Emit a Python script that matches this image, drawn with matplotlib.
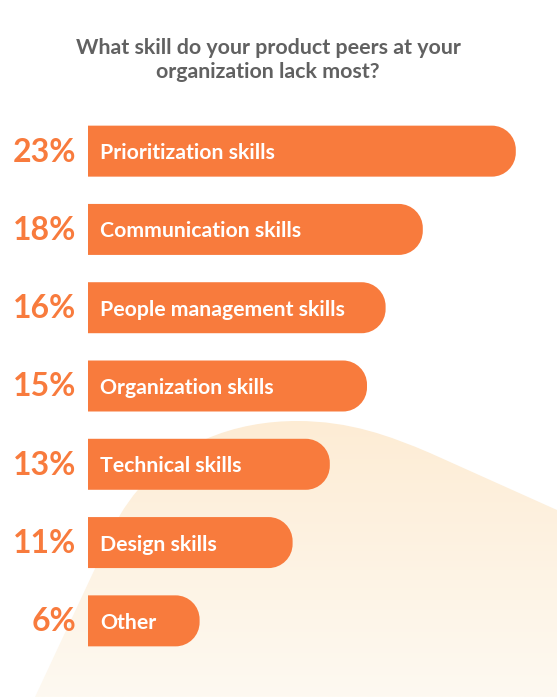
import matplotlib

matplotlib.use("Agg")
import matplotlib.pyplot as plt
import numpy as np
from matplotlib.path import Path
from matplotlib.patches import PathPatch

# Дані з графіка
skills = [
    "Prioritization skills",
    "Communication skills",
    "People management skills",
    "Organization skills",
    "Technical skills",
    "Design skills",
    "Other",
]
shares = [23, 18, 16, 15, 13, 11, 6]
title = "What skill do your product peers at your\norganization lack most?"

ORANGE = "#F87B3D"
GREY = "#616161"
FONT = "Lato"

W, H = 557, 697
fig = plt.figure(figsize=(W / 100, H / 100), dpi=100)
fig.patch.set_facecolor("white")

# Фонова "хвиля" з градієнтом (піксельні координати, y вниз)
bg = fig.add_axes([0, 0, 1, 1], zorder=0)
bg.set_xlim(0, W)
bg.set_ylim(H, 0)
bg.axis("off")
verts = [
    (35, 697), (120, 515),
    (165, 440), (240, 421), (297, 421),
    (350, 421), (390, 436), (430, 453),
    (557, 510), (557, 697), (35, 697),
]
codes = [
    Path.MOVETO, Path.LINETO,
    Path.CURVE4, Path.CURVE4, Path.CURVE4,
    Path.CURVE4, Path.CURVE4, Path.CURVE4,
    Path.LINETO, Path.LINETO, Path.CLOSEPOLY,
]
blob = PathPatch(Path(verts, codes), facecolor="none", edgecolor="none")
bg.add_patch(blob)
top = np.array([253, 236, 212]) / 255
bottom = np.array([254, 249, 241]) / 255
t = np.linspace(0, 1, 256)[:, None, None]
grad = top * (1 - t) + bottom * t
img = bg.imshow(grad, extent=[0, W, H, 415], aspect="auto", zorder=0)
img.set_clip_path(blob)

# Заголовок
fig.text(268 / W, 1 - 60 / H, title, ha="center", va="center", color=GREY,
         fontsize=15.4, fontweight="bold", family=FONT, linespacing=1.2)

# Вісь зі стовпцями
px_x = 18.6  # пікселів на 1%
ax = fig.add_axes([88 / W, 37 / H, (W - 88) / W, 548 / H], zorder=1)
ax.set_xlim(0, (W - 88) / px_x)
ax.set_ylim(len(skills) - 0.5, -0.5)
ax.axis("off")
ax.patch.set_alpha(0)

bar_h = 51 / 78.3
r_px = 24
rx = r_px / px_x
ry = r_px / 78.3
k = 0.5523


def rounded_bar(y, w):
    y0, y1 = y - bar_h / 2, y + bar_h / 2
    v = [
        (0, y0), (w - rx, y0),
        (w - rx + k * rx, y0), (w, y0 + ry - k * ry), (w, y0 + ry),
        (w, y1 - ry),
        (w, y1 - ry + k * ry), (w - rx + k * rx, y1), (w - rx, y1),
        (0, y1), (0, y0),
    ]
    c = [
        Path.MOVETO, Path.LINETO,
        Path.CURVE4, Path.CURVE4, Path.CURVE4,
        Path.LINETO,
        Path.CURVE4, Path.CURVE4, Path.CURVE4,
        Path.LINETO, Path.CLOSEPOLY,
    ]
    return PathPatch(Path(v, c), facecolor=ORANGE, edgecolor="none")


for i, (name, val) in enumerate(zip(skills, shares)):
    ax.add_patch(rounded_bar(i, val))
    ax.annotate(name, xy=(0, i), xytext=(12, -2), textcoords="offset pixels",
                ha="left", va="center", color="white", fontsize=15.3,
                fontweight="bold", family=FONT)
    ax.annotate(f"{val}%", xy=(0, i), xytext=(-12, -1), textcoords="offset pixels",
                ha="right", va="center", color=ORANGE, fontsize=23,
                fontweight="bold", family=FONT)

fig.savefig("out.png", dpi=100)
